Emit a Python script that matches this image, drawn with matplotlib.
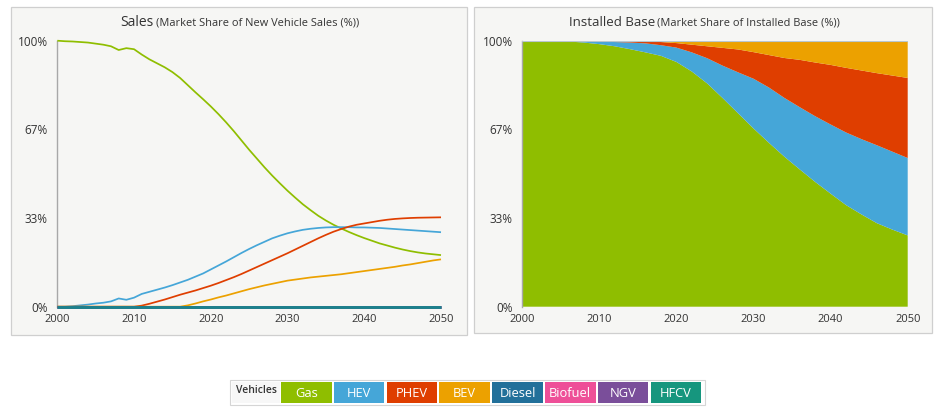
import matplotlib
matplotlib.use("Agg")
import matplotlib.pyplot as plt
from matplotlib.patches import Rectangle
import numpy as np

plt.rcParams['font.family'] = ['Open Sans', 'DejaVu Sans']

# ---------------- data ----------------
categories = ["Gas", "HEV", "PHEV", "BEV", "Diesel", "Biofuel", "NGV", "HFCV"]
colors = ["#8fbe00", "#45a6d8", "#df3e00", "#eca100", "#22709a", "#ee4f98", "#7a4e9a", "#16967e"]

years = list(range(2000, 2051))

sales_gas = [100.0, 99.8, 99.7, 99.5, 99.3, 98.9, 98.5, 97.9, 96.5, 97.2,
             96.8, 94.8, 93.0, 91.5, 90.0, 88.2, 86.0, 83.3, 80.6, 78.0,
             75.3, 72.4, 69.3, 66.0, 62.5, 59.0, 55.7, 52.4, 49.3, 46.4,
             43.6, 41.0, 38.5, 36.3, 34.2, 32.4, 30.8, 29.4, 28.1, 26.9,
             25.8, 24.8, 23.8, 23.0, 22.2, 21.5, 20.9, 20.4, 20.0, 19.7, 19.4]
sales_hev = [0.0, 0.0, 0.2, 0.5, 0.8, 1.2, 1.5, 2.0, 3.1, 2.6,
             3.4, 4.8, 5.6, 6.4, 7.2, 8.1, 9.1, 10.1, 11.3, 12.5,
             14.0, 15.5, 17.0, 18.6, 20.2, 21.7, 23.1, 24.4, 25.7, 26.7,
             27.6, 28.3, 28.9, 29.3, 29.6, 29.8, 29.9, 29.9, 29.9, 29.8,
             29.8, 29.7, 29.6, 29.4, 29.2, 29.0, 28.8, 28.6, 28.4, 28.2, 28.0]
sales_phev = [0.0, 0.0, 0.0, 0.0, 0.0, 0.0, 0.0, 0.0, 0.0, 0.0,
              0.0, 0.4, 1.1, 1.9, 2.7, 3.6, 4.5, 5.3, 6.1, 7.0,
              7.9, 8.9, 10.0, 11.1, 12.3, 13.6, 14.9, 16.2, 17.5, 18.8,
              20.1, 21.5, 22.9, 24.3, 25.7, 27.0, 28.2, 29.2, 30.1, 30.8,
              31.3, 31.8, 32.3, 32.7, 33.0, 33.2, 33.35, 33.45, 33.5, 33.55, 33.6]
sales_bev = [0.0, 0.0, 0.0, 0.0, 0.0, 0.0, 0.0, 0.0, 0.0, 0.0,
             0.0, 0.0, 0.0, 0.0, 0.0, 0.0, 0.0, 0.5, 1.2, 2.0,
             2.7, 3.5, 4.2, 5.0, 5.8, 6.6, 7.3, 8.0, 8.6, 9.2,
             9.8, 10.2, 10.6, 11.0, 11.3, 11.6, 11.9, 12.2, 12.6, 13.0,
             13.4, 13.8, 14.2, 14.6, 15.0, 15.5, 15.9, 16.4, 16.9, 17.4, 17.8]
sales_zero = [0.0] * len(years)

base_years = list(range(2000, 2051, 2))
base_gas = [100.0, 100.0, 99.9, 99.7, 99.3, 98.7, 97.9, 96.8, 95.6, 94.3,
            92.0, 88.4, 83.9, 78.4, 72.7, 67.0, 61.6, 56.4, 51.6, 46.9,
            42.5, 38.2, 34.7, 31.4, 29.0, 26.8]
base_hev = [0.0, 0.0, 0.1, 0.25, 0.55, 1.0, 1.6, 2.5, 3.4, 4.0,
            5.4, 7.2, 9.5, 12.2, 15.4, 18.7, 20.8, 22.1, 23.4, 24.7,
            26.0, 27.3, 28.3, 29.3, 29.3, 29.1]
base_phev = [0.0, 0.0, 0.0, 0.05, 0.15, 0.3, 0.45, 0.6, 0.75, 1.2,
             1.7, 2.9, 4.5, 6.7, 8.6, 10.0, 12.2, 15.0, 17.8, 20.2,
             22.4, 24.3, 25.8, 27.1, 28.6, 30.1]
base_bev = [0.0, 0.0, 0.0, 0.0, 0.0, 0.0, 0.05, 0.1, 0.25, 0.5,
            0.9, 1.5, 2.1, 2.7, 3.3, 4.3, 5.4, 6.5, 7.2, 8.2,
            9.1, 10.2, 11.2, 12.2, 13.1, 14.0]
base_zero = [0.0] * len(base_years)

xticks = [2000, 2010, 2020, 2030, 2040, 2050]
yticks = [0, 33.3, 66.7, 100]
ytick_labels = ["0%", "33%", "67%", "100%"]

# ---------------- figure ----------------
W, H = 943, 416
fig = plt.figure(figsize=(W / 100, H / 100), dpi=100)
fig.patch.set_facecolor("white")

panel_bg = "#f6f6f4"
def px_rect(x0, y0, x1, y1, **kw):
    r = Rectangle((x0 / W, 1 - y1 / H), (x1 - x0) / W, (y1 - y0) / H,
                  transform=fig.transFigure, **kw)
    fig.patches.append(r)
    return r

px_rect(11, 7, 467, 335, facecolor=panel_bg, edgecolor="#cfcfcf", lw=0.9, zorder=-5)
px_rect(474, 7, 932, 333, facecolor=panel_bg, edgecolor="#cfcfcf", lw=0.9, zorder=-5)

def px_axes(x0, y0, x1, y1):
    return fig.add_axes([x0 / W, 1 - y1 / H, (x1 - x0) / W, (y1 - y0) / H])

ax1 = px_axes(57.3, 40.7, 441.0, 306.7)
ax2 = px_axes(522.3, 40.7, 907.7, 306.7)

def style_axes(ax):
    ax.set_facecolor(panel_bg)
    ax.set_xlim(2000, 2050)
    ax.set_ylim(0, 100)
    ax.set_xticks(xticks)
    ax.set_yticks(yticks)
    ax.set_yticklabels(ytick_labels)
    ax.tick_params(length=0, labelsize=8, labelcolor="#333333")
    ax.tick_params(axis='y', pad=7, labelsize=8.5)
    ax.tick_params(axis='x', pad=5)
    for s in ["top", "right", "bottom"]:
        ax.spines[s].set_visible(False)
    ax.spines["left"].set_color("#a8a8a8")
    ax.spines["left"].set_linewidth(1.0)
    ax.grid(False)

style_axes(ax1)
style_axes(ax2)

# Sales lines
sales_series = [sales_gas, sales_hev, sales_phev, sales_bev,
                sales_zero, sales_zero, sales_zero, sales_zero]
for i in range(4):
    ax1.plot(years, sales_series[i], color=colors[i], lw=1.25, zorder=3, clip_on=False,
             solid_capstyle="butt")
for i, a in [(5, 1.0), (6, 1.0), (4, 1.0), (7, 0.5)]:
    ax1.plot(years, sales_series[i], color=colors[i], lw=2.0, zorder=4, clip_on=False,
             alpha=a, solid_capstyle="butt")

# Installed base stacked area
base_series = [base_gas, base_hev, base_phev, base_bev,
               base_zero, base_zero, base_zero, base_zero]
ax2.stackplot(base_years, *base_series, colors=colors, linewidth=0, zorder=2)
ax2.axhline(100, color="#b9c7cf", lw=0.8, zorder=3)

# Titles
def two_part_title(xpx, ypx, big, small, bigsize):
    t1 = fig.text(xpx / W, 1 - ypx / H, big, fontsize=bigsize, color="#333333",
                  ha="left", va="baseline")
    fig.canvas.draw()
    bb = t1.get_window_extent()
    fig.text(bb.x1 / W + 2 / W, 1 - ypx / H, small, fontsize=7.95, color="#333333",
             ha="left", va="baseline")

two_part_title(120.5, 25.5, "Sales", "(Market Share of New Vehicle Sales (%))", 10)
two_part_title(569, 25.5, "Installed Base", "(Market Share of Installed Base (%))", 9.5)

# Legend
px_rect(230, 380, 705, 405, facecolor="white", edgecolor="#d5d5d5", lw=0.8, zorder=1)
px_rect(232, 382, 280, 403, facecolor="#f7f7f7", edgecolor="none", zorder=1)
fig.text(256 / W, 1 - 390.5 / H, "Vehicles", fontsize=7.5, color="#333333",
         ha="center", va="center", fontweight="semibold")
x = 281.0
bw, gap = 50.5, 2.3
for name, c in zip(categories, colors):
    px_rect(x, 382, x + bw, 403, facecolor=c, edgecolor="none", zorder=2)
    fig.text((x + bw / 2) / W, 1 - 393.5 / H, name, fontsize=9.3, color="white",
             ha="center", va="center", zorder=3)
    x += bw + gap

fig.savefig("out.png", dpi=100, facecolor="white")
